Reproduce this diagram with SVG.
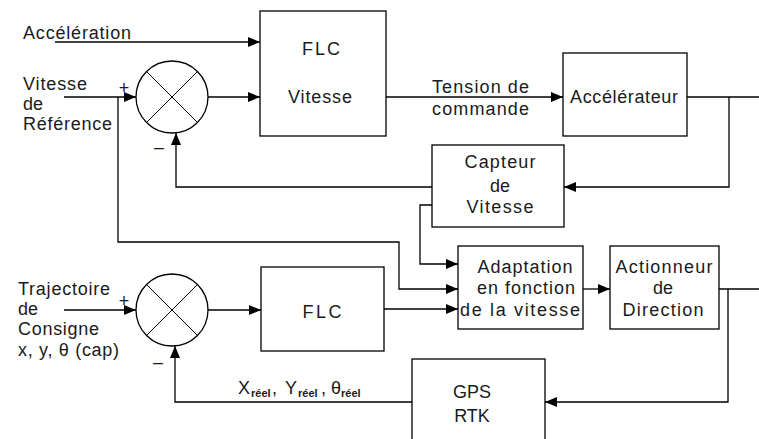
<svg xmlns="http://www.w3.org/2000/svg" width="759" height="439" viewBox="0 0 759 439">
<defs>
<style>
.b{fill:#fff;stroke:#000;stroke-width:1.3}
.c{fill:none;stroke:#000;stroke-width:1.3}
.x{stroke:#000;stroke-width:1}
text{font-family:"Liberation Sans",Arial,sans-serif;font-size:18px;fill:#1a1a1a}
.m{text-anchor:middle}
.s{font-size:11px;font-weight:bold}
</style>
<marker id="a" markerWidth="12" markerHeight="10" refX="12" refY="5" orient="auto" markerUnits="userSpaceOnUse"><path d="M0,0 L12,5 L0,10 z" fill="#000"/></marker>
</defs>
<rect width="759" height="439" fill="#fff"/>
<g id="connectors" class="c">
<path d="M55,42 H260" marker-end="url(#a)"/>
<path d="M64,97 H136" marker-end="url(#a)"/>
<path d="M208,97 H260" marker-end="url(#a)"/>
<path d="M118,97 V242 H399 V289 H458" marker-end="url(#a)"/>
<path d="M386,97 H563" marker-end="url(#a)"/>
<path d="M687,97 H759"/>
<path d="M729,97 V187 H564" marker-end="url(#a)"/>
<path d="M432,187 H176 V133" marker-end="url(#a)"/>
<path d="M432,205 H420 V264 H458" marker-end="url(#a)"/>
<path d="M64,310 H136" marker-end="url(#a)"/>
<path d="M208,310 H261" marker-end="url(#a)"/>
<path d="M384,309 H458" marker-end="url(#a)"/>
<path d="M583,289 H610" marker-end="url(#a)"/>
<path d="M719,289 H759"/>
<path d="M728,289 V402 H545" marker-end="url(#a)"/>
<path d="M412,402 H175 V346" marker-end="url(#a)"/>
</g>
<g id="labels">
<text x="23" y="39" textLength="108" lengthAdjust="spacing">Accélération</text>
<text x="23" y="90" textLength="64" lengthAdjust="spacing">Vitesse</text>
<text x="23" y="110">de</text>
<text x="23" y="130" textLength="89" lengthAdjust="spacing">Référence</text>
<text x="124" y="94" class="m">+</text>
<text x="159" y="153" class="m">–</text>
<text x="18" y="295" textLength="92" lengthAdjust="spacing">Trajectoire</text>
<text x="18" y="315">de</text>
<text x="18" y="335" textLength="81" lengthAdjust="spacing">Consigne</text>
<text x="18" y="356" textLength="101" lengthAdjust="spacing">x, y, θ (cap)</text>
<text x="124" y="307" class="m">+</text>
<text x="158" y="368" class="m">–</text>
<text x="432" y="93" textLength="97" lengthAdjust="spacing">Tension de</text>
<text x="432" y="115" textLength="97" lengthAdjust="spacing">commande</text>
<text x="238" y="394" font-size="19">X</text><text x="251" y="397" class="s">réel</text><text x="272" y="394">,</text>
<text x="285" y="394" font-size="19">Y</text><text x="298" y="397" class="s">réel</text><text x="321" y="394">,</text>
<text x="331" y="394">θ</text><text x="341" y="397" class="s">réel</text>
</g>
<g id="sum1"><circle cx="172" cy="97" r="36" class="b"/><path d="M146.5,71.5 L197.5,122.5 M197.5,71.5 L146.5,122.5" class="x"/></g>
<g id="sum2"><circle cx="172" cy="310" r="36" class="b"/><path d="M146.5,284.5 L197.5,335.5 M197.5,284.5 L146.5,335.5" class="x"/></g>
<g id="flc-vitesse"><rect x="260" y="11" width="126" height="125" class="b"/>
<text x="321" y="55" class="m" textLength="38" lengthAdjust="spacing">FLC</text><text x="320" y="103" class="m" textLength="64" lengthAdjust="spacing">Vitesse</text></g>
<g id="accelerateur"><rect x="563" y="53" width="124" height="83" class="b"/>
<text x="570" y="103" textLength="108" lengthAdjust="spacing">Accélérateur</text></g>
<g id="capteur"><rect x="432" y="145" width="132" height="82" class="b"/>
<text x="500" y="168" class="m" textLength="71" lengthAdjust="spacing">Capteur</text>
<text x="500" y="192" class="m">de</text>
<text x="500" y="213" class="m" textLength="67" lengthAdjust="spacing">Vitesse</text></g>
<g id="adaptation"><rect x="458" y="246" width="125" height="83" class="b"/>
<text x="525" y="273" class="m" textLength="95" lengthAdjust="spacing">Adaptation</text>
<text x="526" y="294" class="m" textLength="98" lengthAdjust="spacing">en fonction</text>
<text x="520" y="316" class="m" textLength="120" lengthAdjust="spacing">de la vitesse</text></g>
<g id="actionneur"><rect x="610" y="246" width="109" height="83" class="b"/>
<text x="664" y="273" class="m" textLength="97" lengthAdjust="spacing">Actionneur</text>
<text x="663" y="294" class="m">de</text>
<text x="663" y="316" class="m" textLength="81" lengthAdjust="spacing">Direction</text></g>
<g id="flc"><rect x="261" y="267" width="123" height="84" class="b"/>
<text x="322" y="318" class="m" textLength="39" lengthAdjust="spacing">FLC</text></g>
<g id="gps"><rect x="412" y="359" width="133" height="90" class="b"/>
<text x="472" y="398" class="m">GPS</text><text x="472" y="422" class="m">RTK</text></g>
</svg>
